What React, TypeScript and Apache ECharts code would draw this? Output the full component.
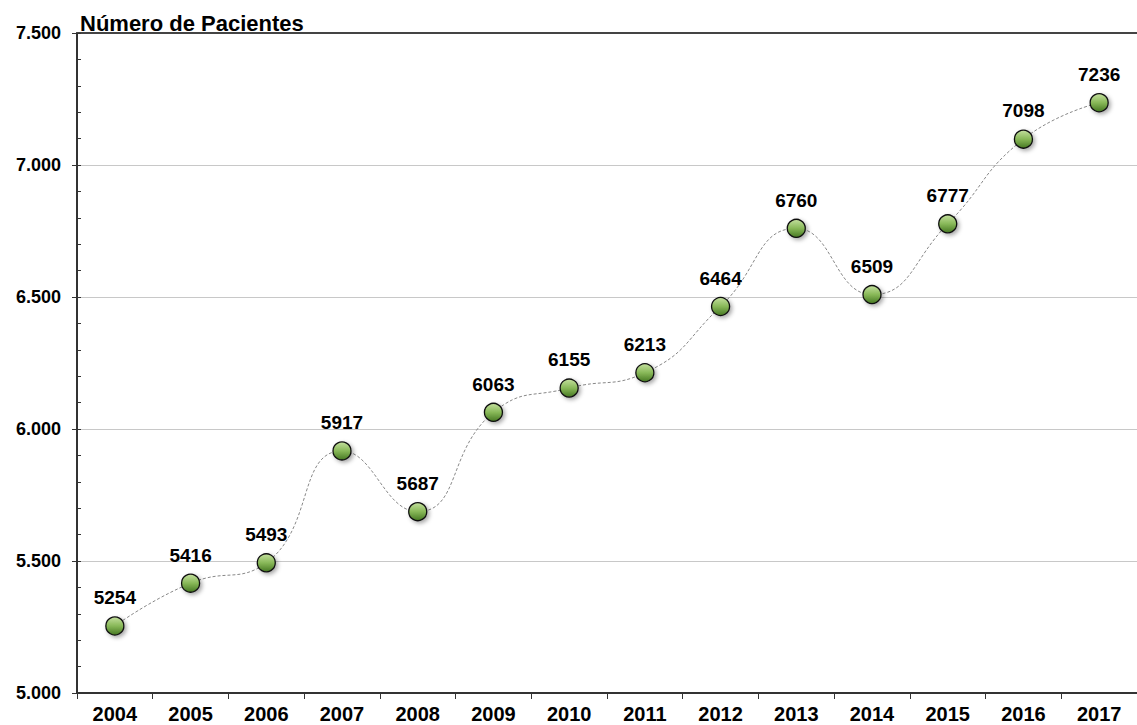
import React, { useEffect, useRef } from "react";
import * as echarts from "echarts";

const years = ["2004","2005","2006","2007","2008","2009","2010","2011","2012","2013","2014","2015","2016","2017"];
const patients = [5254, 5416, 5493, 5917, 5687, 6063, 6155, 6213, 6464, 6760, 6509, 6777, 7098, 7236];
const yTicks = [5000, 5500, 6000, 6500, 7000, 7500];
const titleText = "Número de Pacientes";

const FONT = "'Liberation Sans', Arial, sans-serif";

export default function App() {
  const ref = useRef<HTMLDivElement>(null);
  useEffect(() => {
    if (!ref.current) return;
    const chart = echarts.init(ref.current, null, { renderer: "svg" });
    const fmt = (v: number) => (yTicks.includes(v) ? v.toLocaleString("de-DE") : "");
    chart.setOption({
      animation: false,
      backgroundColor: "#ffffff",
      title: {
        text: titleText,
        left: 75,
        top: 7,
        textStyle: { fontFamily: FONT, fontWeight: "bold", fontSize: 22, color: "#000" },
      },
      grid: { left: 77, right: -8, top: 33, bottom: 32, containLabel: false },
      xAxis: [
        {
          type: "category",
          data: years,
          boundaryGap: true,
          axisLine: { show: true, lineStyle: { color: "#333", width: 2 } },
          axisTick: { show: true, length: 6, lineStyle: { color: "#333", width: 1 } },
          axisLabel: { fontFamily: FONT, fontWeight: "bold", fontSize: 20, color: "#000", margin: 11 },
          splitLine: { show: false },
        },
        {
          type: "category",
          data: years,
          position: "top",
          axisLine: { show: true, lineStyle: { color: "#444", width: 2 } },
          axisTick: { show: false },
          axisLabel: { show: false },
        },
      ],
      yAxis: [
        {
          type: "value",
          min: 5000,
          max: 7500,
          interval: 500,
          axisLine: { show: true, lineStyle: { color: "#333", width: 2 } },
          axisTick: { show: true, length: 5, lineStyle: { color: "#333", width: 1 } },
          axisLabel: {
            fontFamily: FONT, fontWeight: "bold", fontSize: 18, color: "#000", margin: 16,
            formatter: (v: number) => v.toLocaleString("de-DE"),
          },
          splitLine: { show: true, lineStyle: { color: "#c8c8c8", width: 1 } },
        },
        {
          type: "value",
          min: 5000,
          max: 7500,
          interval: 100,
          position: "left",
          axisLine: { show: false },
          axisTick: { show: true, inside: true, length: 4, lineStyle: { color: "#333", width: 1 } },
          axisLabel: { show: false, formatter: fmt },
          splitLine: { show: false },
        },
      ],
      series: [
        {
          type: "line",
          data: patients,
          xAxisIndex: 0,
          yAxisIndex: 0,
          smooth: 0.5,
          symbol: "circle",
          symbolSize: 18,
          lineStyle: { color: "#888", width: 1, type: [3, 2] },
          itemStyle: {
            color: new echarts.graphic.LinearGradient(0, 0, 0, 1, [
              { offset: 0, color: "#c4e09e" },
              { offset: 0.5, color: "#88b858" },
              { offset: 1, color: "#467822" },
            ]),
            borderColor: "#111",
            borderWidth: 1.3,
            shadowColor: "rgba(0,0,0,0.35)",
            shadowBlur: 4,
            shadowOffsetX: 2,
            shadowOffsetY: 2,
          },
          label: {
            show: true,
            position: "top",
            distance: 9,
            fontFamily: FONT,
            fontWeight: "bold",
            fontSize: 19,
            color: "#000",
          },
        },
      ],
    });
    return () => chart.dispose();
  }, []);
  return (
    <div
      ref={ref}
      style={{ position: "fixed", left: 0, top: 0, width: 1137, height: 725, background: "#fff" }}
    />
  );
}
